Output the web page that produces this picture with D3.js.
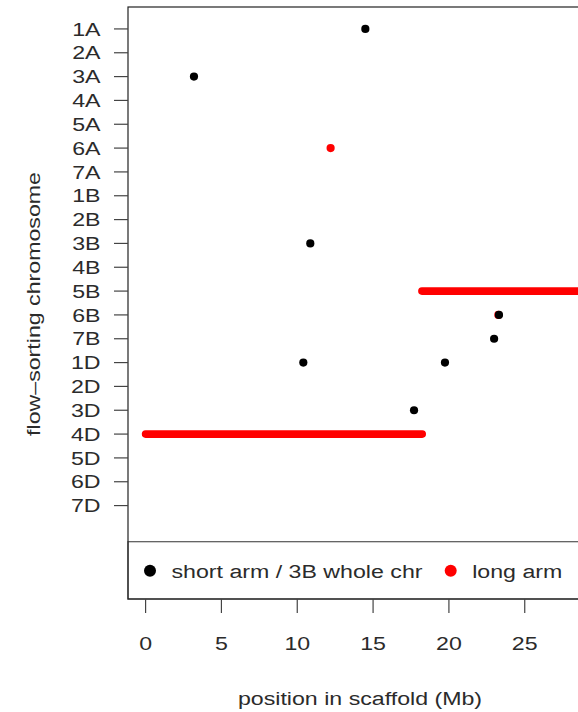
<!DOCTYPE html>
<html>
<head>
<meta charset="utf-8">
<script src="https://cdn.jsdelivr.net/npm/d3@7"></script>
<style>
  html, body { margin: 0; padding: 0; background: #fff; overflow: hidden; }
  text { font-family: "Liberation Sans", Arial, Helvetica, sans-serif; fill: #2b2b2b; }
</style>
</head>
<body>
<svg id="chart" width="578" height="712"></svg>
<script>
// Flow-sorting chromosomes, in plotting order (top to bottom)
const chromosomes = ["1A","2A","3A","4A","5A","6A","7A",
                     "1B","2B","3B","4B","5B","6B","7B",
                     "1D","2D","3D","4D","5D","6D","7D"];

// Single hits on the short arm (3B: whole chromosome) - position in Mb
const shortChr = ["1A", "3A", "3B", "6B", "7B", "1D", "1D", "3D"];
const shortPos = [14.49, 3.19, 10.86, 23.3, 22.98, 10.4, 19.74, 17.7];

// Single hits on the long arm
const longChr = ["6A", "6B"];
const longPos = [12.2, 23.26];

// Long-arm runs covering a stretch of the scaffold (start, end in Mb)
const runChr = ["5B", "4D"];
const runStart = [18.22, 0];
const runEnd = [29.0, 18.24];

// Axis ticks and labels
const xTicks = [0, 5, 10, 15, 20, 25];
const legendLabels = ["short arm / 3B whole chr", "long arm"];
const legendColors = ["#000000", "#ff0000"];

const xLim = [0, 29];
const yLim = [1, 24]; // leaves space under 7D for the legend

const svg = d3.select("#chart");
const plot = { left: 128, top: 7, right: 603, bottom: 599 };
const sx = 1.26;   // horizontal stretch of the lettering
const fs = 18.4;

// base-graphics style 4% range extension
function ext(lim) { const d = (lim[1] - lim[0]) * 0.04; return [lim[0] - d, lim[1] + d]; }

const x = d3.scaleLinear().domain(ext(xLim)).range([plot.left, plot.right]);
const y = d3.scaleLinear().domain(ext(yLim)).range([plot.top, plot.bottom]);
const yOf = c => y(chromosomes.indexOf(c) + 1);

function label(g, str, tx, ty, anchor, rot) {
  return g.append("text")
    .attr("transform", `translate(${tx},${ty})` + (rot ? ` rotate(${rot})` : "") + ` scale(${sx},1)`)
    .attr("text-anchor", anchor)
    .attr("font-size", fs)
    .text(str);
}

// Long-arm runs drawn as thick red bands
svg.append("g").selectAll("line")
  .data(runChr.map((c, i) => ({ c, s: runStart[i], e: runEnd[i] })))
  .join("line")
  .attr("x1", d => x(d.s)).attr("x2", d => x(d.e))
  .attr("y1", d => yOf(d.c)).attr("y2", d => yOf(d.c))
  .attr("stroke", "#ff0000").attr("stroke-width", 7.6).attr("stroke-linecap", "round");

// Long-arm single hits
svg.append("g").selectAll("circle")
  .data(longChr.map((c, i) => ({ c, p: longPos[i] })))
  .join("circle")
  .attr("cx", d => x(d.p)).attr("cy", d => yOf(d.c)).attr("r", 4.1)
  .attr("fill", "#ff0000");

// Short-arm hits
svg.append("g").selectAll("circle")
  .data(shortChr.map((c, i) => ({ c, p: shortPos[i] })))
  .join("circle")
  .attr("cx", d => x(d.p)).attr("cy", d => yOf(d.c)).attr("r", 4.1)
  .attr("fill", "#000000");

// Legend box anchored at the bottom-left corner of the plot region
const lg = svg.append("g");
lg.append("rect")
  .attr("x", plot.left).attr("y", 541.7)
  .attr("width", 455).attr("height", plot.bottom - 541.7)
  .attr("fill", "none").attr("stroke", "#555").attr("stroke-width", 1.2);
const legendX = [150, 450.7];
legendLabels.forEach((t, i) => {
  lg.append("circle").attr("cx", legendX[i]).attr("cy", 570.7).attr("r", 6).attr("fill", legendColors[i]);
  label(lg, t, legendX[i] + 21.5, 577.5, "start");
});

// Plot frame
svg.append("rect")
  .attr("x", plot.left).attr("y", plot.top)
  .attr("width", plot.right - plot.left).attr("height", plot.bottom - plot.top)
  .attr("fill", "none").attr("stroke", "#222").attr("stroke-width", 1.2);

// Y axis: chromosome names
const yAxis = svg.append("g");
chromosomes.forEach(c => {
  const yy = yOf(c);
  yAxis.append("line").attr("x1", 114).attr("x2", plot.left)
    .attr("y1", yy).attr("y2", yy).attr("stroke", "#444").attr("stroke-width", 1.2);
  label(yAxis, c, 100.5, yy + 6.6, "end");
});

// X axis: position ticks
const xAxis = svg.append("g");
xTicks.forEach(v => {
  xAxis.append("line").attr("x1", x(v)).attr("x2", x(v))
    .attr("y1", plot.bottom).attr("y2", 613).attr("stroke", "#444").attr("stroke-width", 1.2);
  label(xAxis, String(v), x(v), 650, "middle");
});

// Axis titles
label(svg, "position in scaffold (Mb)", 360, 705, "middle");
label(svg, "flow\u2013sorting chromosome", 39.5, 304, "middle", -90);
</script>
</body>
</html>
